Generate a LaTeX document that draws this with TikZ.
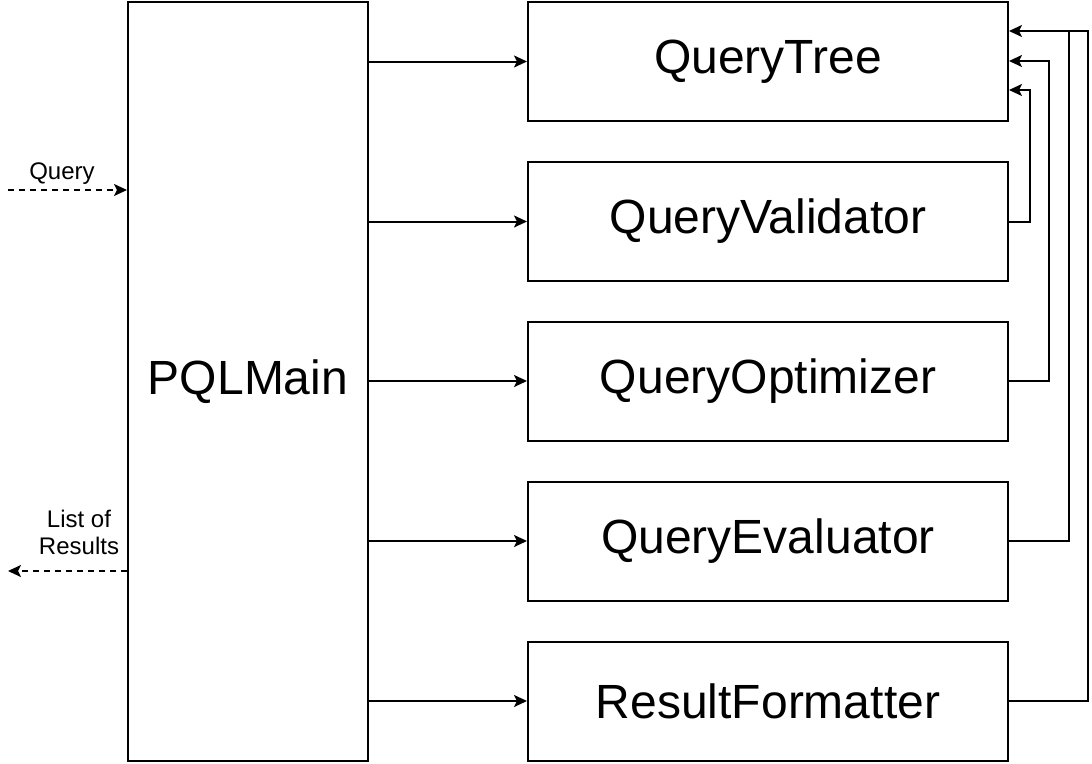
\documentclass[tikz,border=0pt]{standalone}
\usepackage{fontspec}
\setmainfont{Liberation Sans}
\usetikzlibrary{arrows.meta,calc}
\begin{document}
\begin{tikzpicture}[x=1pt,y=-1pt,
  box/.style={draw=black,line width=2pt,rectangle,inner sep=0pt,font=\fontsize{48}{56}\selectfont},
  rbox/.style={box,minimum width=480pt,minimum height=119pt},
  conn/.style={line width=2pt,-{Stealth[length=13pt,width=12pt,inset=3pt]}},
  dconn/.style={conn,dash pattern=on 6pt off 5pt},
  lbl/.style={font=\fontsize{24}{27}\selectfont,align=center,inner sep=0pt}]
\useasboundingbox (0,0) rectangle (1092,763);
\node[box,minimum width=240pt,minimum height=759pt] (pql) at (248,381.5) {PQLMain};
\node[rbox] (qt) at (768,61.5) {QueryTree};
\node[rbox] (qv) at (768,221.5) {QueryValidator};
\node[rbox] (qo) at (768,381) {QueryOptimizer};
\node[rbox] (qe) at (768,541) {QueryEvaluator};
\node[rbox] (rf) at (768,701) {ResultFormatter};
\foreach \n in {qt,qv,qo,qe,rf}{
  \draw[conn] (pql.east |- \n.west) -- (\n.west);
}
\coordinate (qin) at (8,190);
\coordinate (rout) at (8,571);
\draw[dconn] (qin) -- (pql.west |- qin);
\draw[dconn] (pql.west |- rout) -- (rout);
\node[lbl] (ql) at (62,174) {Query};
\node[lbl] (rl) at (79,532) {List of\\Results};
\draw[conn] (qv.east) -- ++(21,0) |- ([yshift=-28.5pt]qt.east);
\draw[conn] (qo.east) -- ++(40,0) |- ([yshift=0.5pt]qt.east);
\draw[conn] (qe.east) -- ++(60,0) |- ([yshift=30.5pt]qt.east);
\draw[line width=2pt] (rf.east) -- ++(79,0) |- ([yshift=30.5pt,xshift=60pt]qt.east);
\end{tikzpicture}
\end{document}
